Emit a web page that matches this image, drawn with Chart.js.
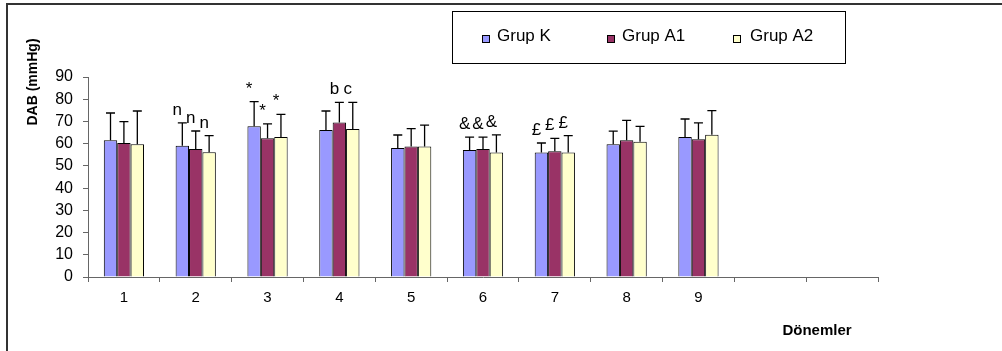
<!DOCTYPE html>
<html>
<head>
<meta charset="utf-8">
<title>DAB</title>
<script src="https://cdn.jsdelivr.net/npm/chart.js@4/dist/chart.umd.min.js"></script>
<style>
  body { margin:0; background:#fff; }
  #wrap { width:1002px; height:351px; }
</style>
</head>
<body>
<div id="wrap"><canvas id="dab" width="1002" height="351"></canvas></div>
<script>
  // chart data
  var donemler = ['1','2','3','4','5','6','7','8','9','',''];
  var seriesNames = ['Grup K','Grup A1','Grup A2'];

  var grupK  = [61.5, 59.1, 67.8, 66.2, 58.1, 57.2, 56.0, 59.7, 63.0, null, null];
  var grupA1 = [60.3, 57.6, 62.4, 69.5, 58.7, 57.6, 56.6, 61.5, 62.0, null, null];
  var grupA2 = [59.7, 56.1, 63.0, 66.6, 58.7, 56.0, 56.0, 60.9, 64.0, null, null];

  // SD (upper error bars only)
  var sdK  = [12.3, 10.3, 11.1, 8.5, 5.8, 5.7, 4.3, 5.9, 8.1];
  var sdA1 = [9.6, 8.1, 6.5, 9.1, 8.1, 5.3, 5.8, 9.0, 7.4];
  var sdA2 = [15.0, 7.5, 10.2, 12.0, 9.6, 8.0, 7.6, 6.9, 10.9];

  // significance marks over each bar
  var markK  = ['', 'n', '*', '',  '', '&', '£', '', ''];
  var markA1 = ['', 'n', '*', 'b', '', '&', '£', '', ''];
  var markA2 = ['', 'n', '*', 'c', '', '&', '£', '', ''];

  var yTicks = [0, 90, 10];

  var FONT = "'Liberation Sans', Arial, sans-serif";
  var sds = [sdK, sdA1, sdA2];
  var marks = [markK, markA1, markA2];
  var colors = ['#9999FF', '#993366', '#FFFFCC'];

  var errorBars = {
    id: 'errorBars',
    afterDatasetsDraw: function (chart) {
      var ctx = chart.ctx;
      var ys = chart.scales.y;
      ctx.save();
      for (var i = 0; i < chart.data.datasets.length; i++) {
        var meta = chart.getDatasetMeta(i);
        var vals = chart.data.datasets[i].data;
        for (var j = 0; j < meta.data.length; j++) {
          if (vals[j] == null) continue;
          var bar = meta.data[j];
          var top = ys.getPixelForValue(vals[j] + sds[i][j]);
          ctx.strokeStyle = '#000';
          ctx.lineWidth = 1.3;
          ctx.beginPath();
          ctx.moveTo(bar.x, bar.y);
          ctx.lineTo(bar.x, top);
          ctx.moveTo(bar.x - 4.5, top);
          ctx.lineTo(bar.x + 4.5, top);
          ctx.stroke();

          if (marks[i][j]) {
            ctx.fillStyle = '#000';
            ctx.font = '17px ' + FONT;
            ctx.textAlign = 'center';
            ctx.textBaseline = 'alphabetic';
            ctx.fillText(marks[i][j], bar.x - 5, top - 8);
          }
        }
      }
      ctx.restore();
    }
  };

  // frame, legend box and axis titles
  var decor = {
    id: 'decor',
    afterDraw: function (chart) {
      var ctx = chart.ctx;
      ctx.save();
      ctx.strokeStyle = '#333';
      ctx.lineWidth = 2;
      ctx.beginPath();
      ctx.moveTo(7, 351);
      ctx.lineTo(7, 4);
      ctx.lineTo(1002, 4);
      ctx.stroke();

      ctx.strokeStyle = '#000';
      ctx.lineWidth = 1;
      ctx.strokeRect(452.5, 11.5, 393, 52);

      var sx = [482, 607, 733];
      var tx = [497, 622, 750];
      ctx.font = '17px ' + FONT;
      ctx.textAlign = 'left';
      ctx.textBaseline = 'alphabetic';
      for (var i = 0; i < seriesNames.length; i++) {
        ctx.fillStyle = colors[i];
        ctx.fillRect(sx[i], 35, 7, 7);
        ctx.strokeRect(sx[i] + 0.5, 35.5, 7, 7);
        ctx.fillStyle = '#000';
        ctx.fillText(seriesNames[i], tx[i], 41);
      }

      ctx.font = 'bold 15px ' + FONT;
      ctx.textAlign = 'center';
      ctx.textBaseline = 'middle';
      ctx.fillText('Dönemler', 817, 331);

      ctx.font = 'bold 14px ' + FONT;
      ctx.translate(33, 82);
      ctx.rotate(-Math.PI / 2);
      ctx.fillText('DAB (mmHg)', 0, 0);
      ctx.restore();
    }
  };

  var chart = new Chart(document.getElementById('dab'), {
    type: 'bar',
    data: {
      labels: donemler,
      datasets: [
        { label: seriesNames[0], data: grupK,  backgroundColor: colors[0] },
        { label: seriesNames[1], data: grupA1, backgroundColor: colors[1] },
        { label: seriesNames[2], data: grupA2, backgroundColor: colors[2] }
      ]
    },
    options: {
      responsive: false,
      animation: false,
      layout: { padding: { left: 0, top: 77, right: 124, bottom: 0 } },
      datasets: {
        bar: {
          borderColor: '#000',
          borderWidth: 1,
          categoryPercentage: 0.56,
          barPercentage: 1
        }
      },
      plugins: {
        legend: { display: false },
        tooltip: { enabled: false }
      },
      scales: {
        x: {
          grid: { drawOnChartArea: false, tickLength: 5, color: '#666', offset: true },
          border: { color: '#666', width: 1 },
          ticks: { color: '#000', font: { family: FONT, size: 15 }, padding: 7, maxRotation: 0 },
          afterFit: function (scale) { scale.height = 74; }
        },
        y: {
          min: yTicks[0],
          max: yTicks[1],
          ticks: { stepSize: yTicks[2], color: '#000', font: { family: FONT, size: 16 }, padding: 10 },
          grid: { drawOnChartArea: false, tickLength: 5, color: '#666' },
          border: { color: '#666', width: 1 },
          afterFit: function (scale) { scale.width = 88; }
        }
      }
    },
    plugins: [errorBars, decor]
  });
</script>
</body>
</html>
